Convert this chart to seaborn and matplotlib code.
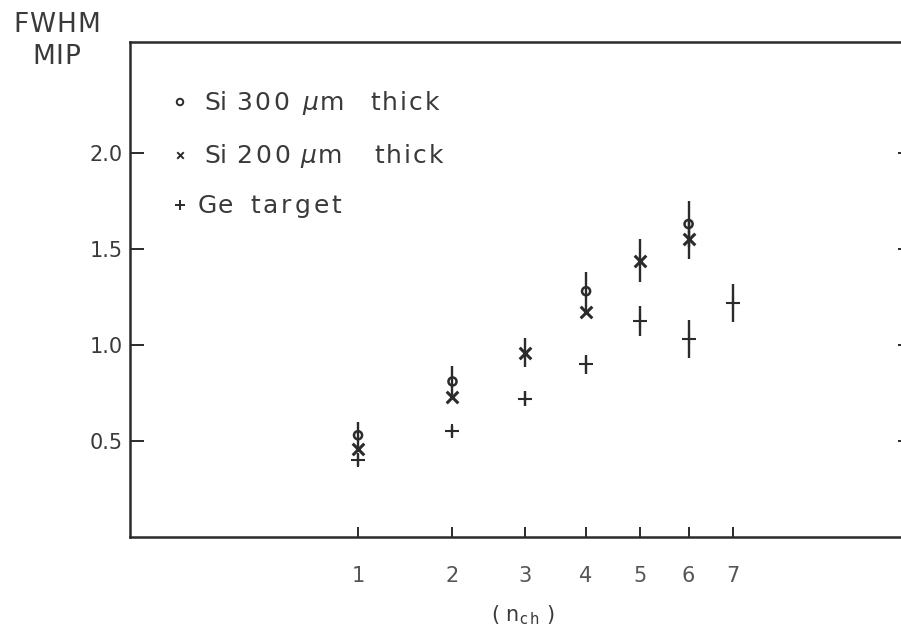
import numpy as np
import pandas as pd
import matplotlib
matplotlib.use("Agg")
import matplotlib.pyplot as plt
import seaborn as sns

# FWHM of the MIP peak versus number of channels n_ch
si300_n = [1, 2, 4, 6]
si300_fwhm = [0.53, 0.81, 1.28, 1.63]
si300_err = [0.07, 0.08, 0.10, 0.12]

si200_n = [1, 2, 3, 4, 5, 6]
si200_fwhm = [0.46, 0.73, 0.96, 1.17, 1.44, 1.55]
si200_err = [0.0, 0.0, 0.075, 0.0, 0.11, 0.10]

ge_n = [1, 2, 3, 4, 5, 6, 7]
ge_fwhm = [0.40, 0.55, 0.72, 0.90, 1.125, 1.03, 1.22]
ge_err = [0.03, 0.03, 0.04, 0.05, 0.08, 0.10, 0.10]

x_ticks = [1, 2, 3, 4, 5, 6, 7]
y_ticks = [0.5, 1.0, 1.5, 2.0]
y_tick_labels = ["0.5", "1.0", "1.5", "2.0"]

sns.set_theme(style="white")
plt.rcParams["font.family"] = ["DejaVu Sans"]

INK = "#2b2b2b"
TXT = "#3a3a3a"
W, H = 901, 635

fig = plt.figure(figsize=(9.01, 6.35), dpi=100)
fig.patch.set_facecolor("white")
ax = fig.add_axes([130 / W, 98 / H, 775 / W, 495 / H])
ax.set_facecolor("white")
renderer = fig.canvas.get_renderer()

# square-root scale on the channel axis
ax.set_xscale("function", functions=(lambda v: np.sqrt(np.clip(v, 0, None)), np.square))
ax.set_xlim(0, 11.55)
ax.set_ylim(0, 2.578)

df300 = pd.DataFrame({"n": si300_n, "fwhm": si300_fwhm, "err": si300_err})
df200 = pd.DataFrame({"n": si200_n, "fwhm": si200_fwhm, "err": si200_err})
dfge = pd.DataFrame({"n": ge_n, "fwhm": ge_fwhm, "err": ge_err})

# vertical error bars
for d in (df300, df200, dfge):
    d = d[d["err"] > 0]
    ax.errorbar(d["n"], d["fwhm"], yerr=d["err"], fmt="none",
                ecolor=INK, elinewidth=1.7, capsize=0, zorder=2)

sns.scatterplot(data=df300, x="n", y="fwhm", marker="o", s=34,
                facecolor="none", edgecolor=INK, linewidth=1.8, ax=ax, zorder=3)
sns.scatterplot(data=df200, x="n", y="fwhm", marker="x", s=70,
                color=INK, linewidth=2.2, ax=ax, zorder=3)
sns.scatterplot(data=dfge, x="n", y="fwhm", marker="+", s=90,
                color=INK, linewidth=1.5, ax=ax, zorder=3)

ax.set_xlabel("")
ax.set_ylabel("")

# axes frame
for side in ("left", "bottom", "top", "right"):
    ax.spines[side].set_visible(True)
    ax.spines[side].set_color(INK)
    ax.spines[side].set_linewidth(1.8)

ax.set_xticks(x_ticks)
ax.set_xticklabels([str(v) for v in x_ticks])
ax.xaxis.set_minor_locator(matplotlib.ticker.NullLocator())
ax.tick_params(axis="x", which="major", direction="in", length=7, width=1.4,
               color=INK, pad=21, labelsize=15, labelcolor="#555555",
               top=False, bottom=True)

ax.set_yticks(y_ticks)
ax.set_yticklabels(y_tick_labels)
ax.tick_params(axis="y", which="major", direction="in", length=10, width=1.4,
               color=INK, pad=5, labelsize=15, labelcolor=TXT,
               left=True, right=False)

# short inward ticks on the right frame
sec = ax.secondary_yaxis("right")
sec.set_yticks(y_ticks)
sec.tick_params(direction="in", length=5, width=1.4, color=INK, labelright=False)
sec.spines["right"].set_color(INK)
sec.spines["right"].set_linewidth(1.8)


def tracked(x_px, base_px, s, track, size):
    """Write s from pixel x_px on baseline base_px with extra letter spacing."""
    cur = x_px
    for ch in s:
        glyph = r"$\mu$" if ch == "µ" else ch
        t = fig.text(cur / W, 1 - base_px / H, glyph, ha="left", va="baseline",
                     fontsize=size, color=TXT)
        cur += t.get_window_extent(renderer).width + track
    return cur


# axis titles
tracked(13, 32, "FWHM", 1, 19)
tracked(32, 64, "MIP", 1, 19)
fig.text(523 / W, 1 - 615 / H, r"( n$_{\mathregular{c\,h}}$ )", ha="center",
         va="center", fontsize=15, color=TXT)

# key in the upper left corner
key = [
    ("o", 102, [(204, "Si", 0), (236, "300", 3), (302, "µm", 1), (370, "thick", 2)]),
    ("x", 155, [(204, "Si", 0), (236, "200", 3), (300, "µm", 1), (374, "thick", 2)]),
    ("+", 205, [(198, "Ge", 0), (250, "target", 3)]),
]
for mk, yp, words in key:
    mx, my = (180 - 130) / 775, (537 - yp) / 495
    if mk == "o":
        ax.scatter([mx], [my], transform=ax.transAxes, marker="o", s=22,
                   facecolor="none", edgecolor=INK, linewidth=1.4, clip_on=False)
    elif mk == "x":
        ax.scatter([mx], [my], transform=ax.transAxes, marker="x", s=22,
                   color=INK, linewidth=1.4, clip_on=False)
    else:
        ax.scatter([mx], [my], transform=ax.transAxes, marker="+", s=60,
                   color=INK, linewidth=1.4, clip_on=False)
    for xp, w, tr in words:
        tracked(xp, yp + 8, w, tr, 18)

fig.savefig("out.png", dpi=100, facecolor="white")
